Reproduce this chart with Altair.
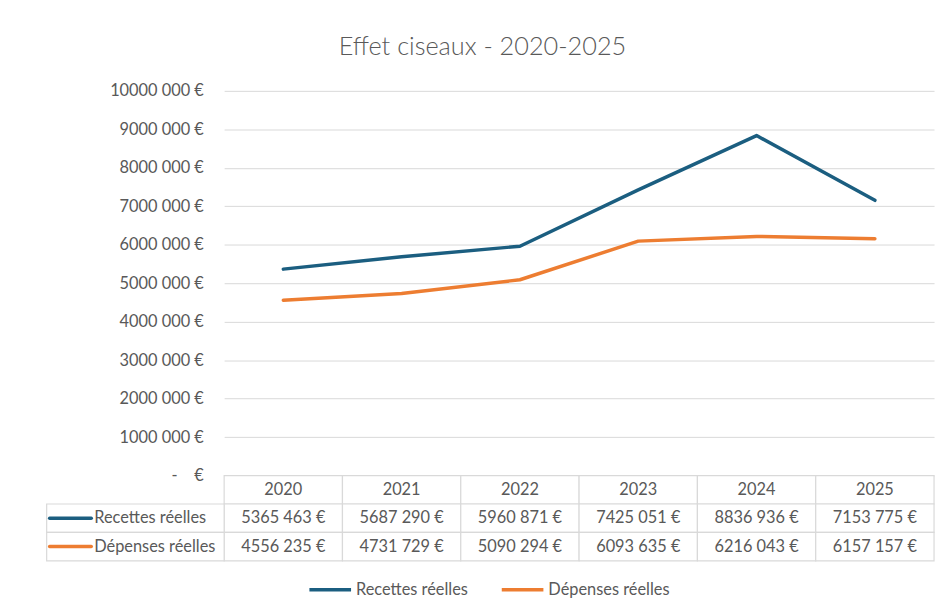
import altair as alt
import pandas as pd

# ---- data -------------------------------------------------------------
years = ["2020", "2021", "2022", "2023", "2024", "2025"]
series = ["Recettes réelles", "Dépenses réelles"]
recettes = [5365463, 5687290, 5960871, 7425051, 8836936, 7153775]
depenses = [4556235, 4731729, 5090294, 6093635, 6216043, 6157157]
y_ticks = [0, 1000000, 2000000, 3000000, 4000000, 5000000,
           6000000, 7000000, 8000000, 9000000, 10000000]
title_text = "Effet ciseaux - 2020-2025"

# ---- style ------------------------------------------------------------
colors = ["#1b5e80", "#ed7d31"]
FONT = "Lato"
GREY = "#595959"
GRID = "#d9d9d9"
FS = 16.5


def eur(v):
    s = f"{v:,}".replace(",", "", 1).replace(",", " ")
    return s + " €"


values = {series[0]: recettes, series[1]: depenses}

line_df = pd.DataFrame(
    [{"year": y, "serie": s, "value": values[s][i]}
     for s in series for i, y in enumerate(years)]
)

color_scale = alt.Scale(domain=series, range=colors)

label_expr = (
    "datum.value == 0 ? '-\u00a0\u00a0\u00a0\u00a0€' : "
    "replace(replace(format(datum.value, ','), ',', ''), ',', ' ') + ' €'"
)

lines = alt.Chart(line_df).mark_line(
    strokeWidth=3.5, strokeCap="round", strokeJoin="round"
).encode(
    x=alt.X("year:O", sort=years, scale=alt.Scale(padding=0.5), axis=None),
    y=alt.Y(
        "value:Q",
        title=None,
        scale=alt.Scale(domain=[0, 10000000], nice=False),
        axis=alt.Axis(
            values=y_ticks, labelExpr=label_expr, ticks=False, domain=False,
            labelFont=FONT, labelFontSize=FS, labelColor=GREY, labelPadding=21,
            gridColor=GRID, gridWidth=1,
        ),
    ),
    color=alt.Color(
        "serie:N", scale=color_scale, sort=series,
        legend=alt.Legend(
            orient="none", legendX=84, legendY=480, direction="horizontal",
            title=None, symbolType="stroke", symbolStrokeWidth=3.5,
            symbolSize=1764, labelFont=FONT, labelFontSize=FS,
            labelColor=GREY, columnPadding=27, labelOffset=3,
        ),
    ),
).properties(width=716, height=388)

# ---- data table ---------------------------------------------------------
n_cols = len(years)
label_w = 1.5  # width of the label column, in table-column units

cells = []
for r in range(3):
    for i in range(n_cols):
        cells.append({"x": i, "x2": i + 1, "y": r, "y2": r + 1})
for r in (1, 2):
    cells.append({"x": -label_w, "x2": 0, "y": r, "y2": r + 1})
cells_df = pd.DataFrame(cells)

texts = []
for i, y in enumerate(years):
    texts.append({"x": i + 0.5, "y": 0.5, "t": y})
for r, s in enumerate(series, start=1):
    for i in range(n_cols):
        texts.append({"x": i + 0.5, "y": r + 0.5, "t": eur(values[s][i])})
texts_df = pd.DataFrame(texts)

row_df = pd.DataFrame(
    [{"x": -label_w, "y": r + 0.5, "serie": s} for r, s in enumerate(series, start=1)]
)

xs = alt.Scale(domain=[0, n_cols], nice=False, zero=False)
ys = alt.Scale(domain=[0, 3], reverse=True, nice=False, zero=False)

grid = alt.Chart(cells_df).mark_rect(fill="white", stroke=GRID, strokeWidth=1.2).encode(
    x=alt.X("x:Q", scale=xs, axis=None), x2="x2",
    y=alt.Y("y:Q", scale=ys, axis=None), y2="y2",
)

cell_text = alt.Chart(texts_df).mark_text(
    font=FONT, fontSize=FS, color=GREY, baseline="middle", align="center"
).encode(
    x=alt.X("x:Q", scale=xs, axis=None),
    y=alt.Y("y:Q", scale=ys, axis=None),
    text="t:N",
)

row_sym = alt.Chart(row_df).mark_rule(
    strokeWidth=3.5, strokeCap="round", xOffset=3, x2Offset=45
).encode(
    x=alt.X("x:Q", scale=xs, axis=None), x2="x:Q",
    y=alt.Y("y:Q", scale=ys, axis=None),
    color=alt.Color("serie:N", scale=color_scale, sort=series, legend=None),
)

row_lab = alt.Chart(row_df).mark_text(
    font=FONT, fontSize=FS, color=GREY, baseline="middle", align="left", dx=48
).encode(
    x=alt.X("x:Q", scale=xs, axis=None),
    y=alt.Y("y:Q", scale=ys, axis=None),
    text="serie:N",
)

table = alt.layer(grid, cell_text, row_sym, row_lab).properties(width=716, height=86)

chart = alt.vconcat(
    lines, table, spacing=0, bounds="flush",
    title=alt.Title(title_text, font=FONT, fontSize=25.5, fontWeight=300,
                    color=GREY, anchor="middle", offset=22, dx=-8),
).properties(
    padding={"left": 37, "top": 25, "right": 3, "bottom": 5},
    background="white",
).configure_view(stroke="transparent")

chart.save("out.html", embed_options={"renderer": "svg", "actions": False})
